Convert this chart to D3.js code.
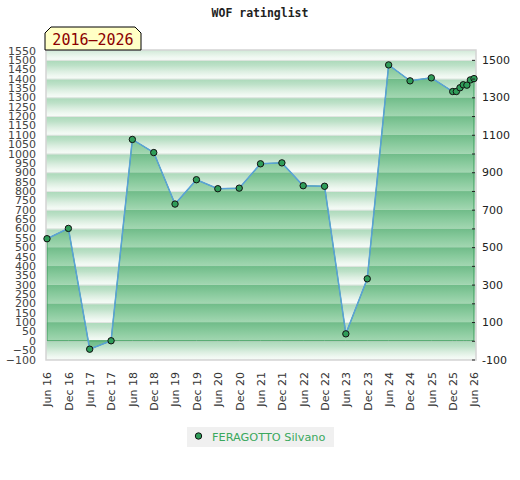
<!DOCTYPE html>
<html>
<head>
<meta charset="utf-8">
<script src="https://cdn.jsdelivr.net/npm/d3@7"></script>
<style>
  body { margin: 0; background: #fff; }
  svg { display: block; font-family: "DejaVu Sans", sans-serif; }
</style>
</head>
<body>
<div id="chart"></div>
<script>
// data
const months = ["2016-06","2016-12","2017-06","2017-12","2018-06","2018-12","2019-06","2019-12",
  "2020-06","2020-12","2021-06","2021-12","2022-06","2022-12","2023-06","2023-12","2024-06",
  "2024-12","2025-06","2025-12","2026-01","2026-02","2026-03","2026-04","2026-05","2026-06"];
const ratings = [545, 600, -45, 0, 1075, 1005, 730, 860, 812, 815, 945, 950, 828, 825, 37, 331,
  1473, 1388, 1404, 1331, 1331, 1351, 1367, 1365, 1393, 1400];
const playerName = "FERAGOTTO Silvano";
const chartTitle = "WOF ratinglist";
const periodLabel = "2016\u20132026";
const leftTicks = d3.range(-100, 1551, 50);
const rightTicks = d3.range(-100, 1501, 100);

const width = 520, height = 480,
  plot = {left: 46, right: 476, top: 50, bottom: 360};

const parse = d3.timeParse("%Y-%m");
const data = months.map((m, i) => ({date: parse(m), value: ratings[i]}));

const x = d3.scaleTime()
  .domain([parse("2016-06"), parse("2026-06")])
  .range([47, 474]);

const y = d3.scaleLinear()
  .domain([-100, 1550])
  .range([plot.bottom - 0.5, plot.top + 0.5]);

const svg = d3.select("#chart").append("svg")
  .attr("width", width)
  .attr("height", height);

const defs = svg.append("defs");

// stripe gradients
const bgGrad = defs.append("linearGradient").attr("id", "bgGrad")
  .attr("x1", 0).attr("x2", 0).attr("y1", 0).attr("y2", 1);
[[0, "#a9d8b8"], [0.3, "#bde1c8"], [0.6, "#dbeee0"], [0.85, "#eff8f1"], [1, "#f6fbf7"]]
  .forEach(s => bgGrad.append("stop").attr("offset", s[0]).attr("stop-color", s[1]));

const areaGrad = defs.append("linearGradient").attr("id", "areaGrad")
  .attr("x1", 0).attr("x2", 0).attr("y1", 0).attr("y2", 1);
[[0, "#6fbb88"], [0.45, "#86c99b"], [1, "#a3d7b2"]]
  .forEach(s => areaGrad.append("stop").attr("offset", s[0]).attr("stop-color", s[1]));

const area = d3.area()
  .x(d => x(d.date))
  .y0(y(0))
  .y1(d => y(d.value));

const line = d3.line()
  .x(d => x(d.date))
  .y(d => y(d.value));

defs.append("clipPath").attr("id", "plotClip")
  .append("rect")
  .attr("x", plot.left).attr("y", plot.top)
  .attr("width", plot.right - plot.left).attr("height", plot.bottom - plot.top);

defs.append("clipPath").attr("id", "areaClip")
  .append("path").attr("d", area(data));

const bandStarts = d3.range(-100, 1600, 100);

// background bands
const bg = svg.append("g").attr("clip-path", "url(#plotClip)");
bg.selectAll("rect")
  .data(bandStarts)
  .enter().append("rect")
    .attr("x", plot.left)
    .attr("width", plot.right - plot.left)
    .attr("y", d => y(d + 100))
    .attr("height", d => y(d) - y(d + 100))
    .style("fill", "url(#bgGrad)");

bg.selectAll("line")
  .data(bandStarts)
  .enter().append("line")
    .attr("x1", plot.left).attr("x2", plot.right)
    .attr("y1", d => y(d) + 0.5).attr("y2", d => y(d) + 0.5)
    .style("stroke", "#e2e6e3")
    .style("stroke-width", 1);

// area bands
const areaBands = svg.append("g").attr("clip-path", "url(#areaClip)");
areaBands.selectAll("rect")
  .data(bandStarts)
  .enter().append("rect")
    .attr("x", plot.left)
    .attr("width", plot.right - plot.left)
    .attr("y", d => y(d + 100))
    .attr("height", d => y(d) - y(d + 100) + 0.2)
    .style("fill", "url(#areaGrad)");

svg.append("path")
  .attr("d", area(data))
  .style("fill", "none")
  .style("stroke", "#3d9c5c")
  .style("stroke-width", 1);

// plot border
svg.append("rect")
  .attr("x", plot.left).attr("y", plot.top)
  .attr("width", plot.right - plot.left).attr("height", plot.bottom - plot.top)
  .style("fill", "none")
  .style("stroke", "#d4d4d4")
  .style("stroke-width", 1.5);

svg.append("path")
  .attr("d", line(data))
  .style("fill", "none")
  .style("stroke", "#5aa2d8")
  .style("stroke-width", 1.5);

svg.append("g").selectAll("circle")
  .data(data)
  .enter().append("circle")
    .attr("cx", d => x(d.date))
    .attr("cy", d => y(d.value))
    .attr("r", 3.2)
    .style("fill", "#2f9d59")
    .style("stroke", "#111")
    .style("stroke-width", 1);

// left axis
const yLeft = svg.append("g")
  .attr("transform", `translate(${plot.left},0)`)
  .call(d3.axisLeft(y).tickValues(leftTicks).tickSize(0).tickPadding(10).tickFormat(d3.format("d")));
yLeft.select(".domain").remove();
yLeft.selectAll("text")
  .style("font-family", "DejaVu Sans")
  .style("font-size", "11px")
  .style("fill", "#444");

// right axis
const yRight = svg.append("g")
  .attr("transform", `translate(475,0)`)
  .call(d3.axisRight(y).tickValues(rightTicks).tickSizeInner(-3).tickSizeOuter(0).tickPadding(7)
    .tickFormat(d => ((d + 100) % 200 === 0 ? d : "")));
yRight.select(".domain").remove();
yRight.selectAll("line").style("stroke", "#222");
yRight.selectAll("text")
  .style("font-family", "DejaVu Sans")
  .style("font-size", "11px")
  .style("fill", "#222");

// bottom axis
const xTicks = d3.timeMonth.range(parse("2016-06"), d3.timeMonth.offset(parse("2026-06"), 1), 6);
const xAxis = svg.append("g")
  .attr("transform", `translate(0,${plot.bottom})`)
  .call(d3.axisBottom(x).tickValues(xTicks).tickSize(0).tickFormat(d3.timeFormat("%b %y")));
xAxis.select(".domain").remove();
xAxis.selectAll("text")
  .attr("transform", "rotate(-90)")
  .attr("x", -12)
  .attr("y", 0)
  .attr("dy", "0.35em")
  .style("text-anchor", "end")
  .style("font-family", "DejaVu Sans")
  .style("font-size", "11px")
  .style("fill", "#333");

// title
svg.append("text")
  .attr("x", 260)
  .attr("y", 17)
  .attr("text-anchor", "middle")
  .style("font-family", "DejaVu Sans Mono")
  .style("font-weight", "bold")
  .style("font-size", "11.5px")
  .style("fill", "#222")
  .text(chartTitle);

// period tag
svg.append("path")
  .attr("d", "M45,50V33L51,27H135L141,33V50Z")
  .style("fill", "#ffffc6")
  .style("stroke", "#000")
  .style("stroke-width", 1);
svg.append("text")
  .attr("x", 93)
  .attr("y", 45)
  .attr("text-anchor", "middle")
  .style("font-family", "DejaVu Sans Mono")
  .style("font-size", "15px")
  .style("fill", "#8b0000")
  .text(periodLabel);

// legend
const legend = svg.append("g");
legend.append("rect")
  .attr("x", 187).attr("y", 427)
  .attr("width", 147).attr("height", 20)
  .style("fill", "#f0f0f0");
legend.append("circle")
  .attr("cx", 198.5).attr("cy", 436)
  .attr("r", 3.2)
  .style("fill", "#2f9d59")
  .style("stroke", "#111");
legend.append("text")
  .attr("x", 212).attr("y", 440.5)
  .style("font-family", "DejaVu Sans")
  .style("font-size", "11.3px")
  .style("fill", "#3aa85d")
  .text(playerName);
</script>
</body>
</html>
